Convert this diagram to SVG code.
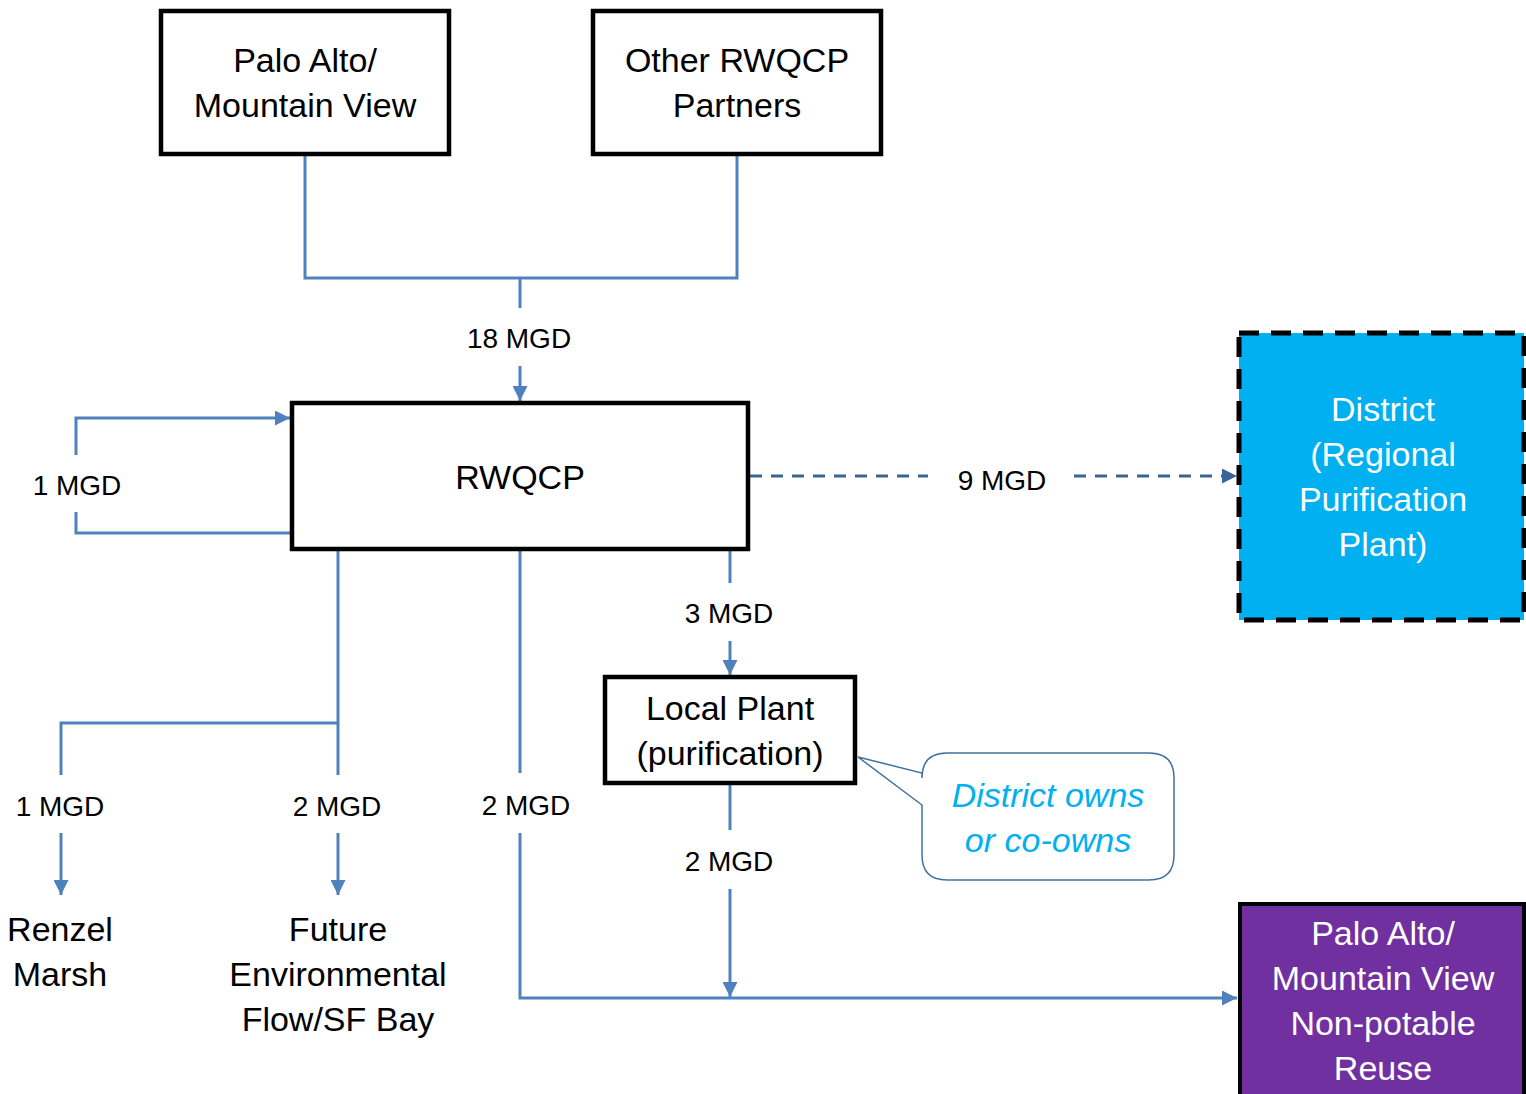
<svg xmlns="http://www.w3.org/2000/svg" width="1526" height="1094" viewBox="0 0 1526 1094">
<style>
.box{fill:#fff;stroke:#000;stroke-width:4.5}
.t{font-family:"Liberation Sans",Arial,sans-serif;font-size:34px;fill:#000;text-anchor:middle}
.w{fill:#fff}
.lbl{font-family:"Liberation Sans",Arial,sans-serif;font-size:28px;fill:#000;text-anchor:middle}
.c{fill:none;stroke:#4f81bd;stroke-width:3}
.d{fill:none;stroke:#3b6496;stroke-width:3;stroke-dasharray:12,9}
</style>
<defs>
<marker id="a" viewBox="0 0 10 10" refX="10" refY="5" markerWidth="5" markerHeight="5" orient="auto" markerUnits="strokeWidth"><path d="M0,0L10,5L0,10z" fill="#4f81bd"/></marker>
<marker id="ad" viewBox="0 0 10 10" refX="10" refY="5" markerWidth="5" markerHeight="5" orient="auto" markerUnits="strokeWidth"><path d="M0,0L10,5L0,10z" fill="#3b6496"/></marker>
</defs>
<rect width="1526" height="1094" fill="#fff"/>
<g id="connectors">
<polyline class="c" points="305,155 305,278 737,278 737,155"/>
<line class="c" x1="520" y1="278" x2="520" y2="308"/>
<line class="c" x1="520" y1="366" x2="520" y2="401" marker-end="url(#a)"/>
<polyline class="c" points="292,533 76,533 76,512"/>
<polyline class="c" points="76,455 76,418 290,418" marker-end="url(#a)"/>
<line class="d" x1="750" y1="476" x2="928" y2="476"/>
<line class="d" x1="1074" y1="476" x2="1237" y2="476" marker-end="url(#ad)"/>
<line class="c" x1="730" y1="549" x2="730" y2="583"/>
<line class="c" x1="730" y1="641" x2="730" y2="675" marker-end="url(#a)"/>
<line class="c" x1="730" y1="783" x2="730" y2="830"/>
<line class="c" x1="730" y1="889" x2="730" y2="997" marker-end="url(#a)"/>
<polyline class="c" points="338,549 338,775"/>
<polyline class="c" points="338,723 61,723 61,775"/>
<line class="c" x1="61" y1="833" x2="61" y2="895" marker-end="url(#a)"/>
<line class="c" x1="338" y1="833" x2="338" y2="895" marker-end="url(#a)"/>
<line class="c" x1="520" y1="549" x2="520" y2="773"/>
<polyline class="c" points="520,833 520,998 1237,998" marker-end="url(#a)"/>
</g>
<g id="lbls">
<text class="lbl" x="519" y="348">18 MGD</text>
<text class="lbl" x="77" y="495">1 MGD</text>
<text class="lbl" x="1002" y="490">9 MGD</text>
<text class="lbl" x="729" y="623">3 MGD</text>
<text class="lbl" x="729" y="871">2 MGD</text>
<text class="lbl" x="60" y="816">1 MGD</text>
<text class="lbl" x="337" y="816">2 MGD</text>
<text class="lbl" x="526" y="815">2 MGD</text>
</g>
<g id="palo-alto">
<rect class="box" x="161" y="11" width="288" height="143"/>
<text class="t" x="305" y="72">Palo Alto/</text>
<text class="t" x="305" y="117">Mountain View</text>
</g>
<g id="other-partners">
<rect class="box" x="593" y="11" width="288" height="143"/>
<text class="t" x="737" y="72">Other RWQCP</text>
<text class="t" x="737" y="117">Partners</text>
</g>
<g id="rwqcp">
<rect class="box" x="292" y="403" width="456" height="146"/>
<text class="t" x="520" y="489">RWQCP</text>
</g>
<g id="district">
<rect x="1239" y="333" width="285" height="287" fill="#00b0f0" stroke="#000" stroke-width="5" stroke-dasharray="20,12"/>
<text class="t w" x="1383" y="421">District</text>
<text class="t w" x="1383" y="466">(Regional</text>
<text class="t w" x="1383" y="511">Purification</text>
<text class="t w" x="1383" y="556">Plant)</text>
</g>
<g id="local-plant">
<rect class="box" x="605" y="677" width="250" height="106"/>
<text class="t" x="730" y="720">Local Plant</text>
<text class="t" x="730" y="765">(purification)</text>
</g>
<g id="callout">
<path d="M947,753 H1149 Q1174,753 1174,778 V855 Q1174,880 1149,880 H947 Q922,880 922,855 V805 L858,757 L922,773 V778 Q922,753 947,753 Z" fill="#fff" stroke="#41719c" stroke-width="1.5"/>
<text x="1048" y="807" font-family="Liberation Sans,Arial,sans-serif" font-size="34" font-style="italic" fill="#00b0f0" text-anchor="middle">District owns</text>
<text x="1048" y="852" font-family="Liberation Sans,Arial,sans-serif" font-size="34" font-style="italic" fill="#00b0f0" text-anchor="middle">or co-owns</text>
</g>
<g id="renzel">
<text class="t" x="60" y="941">Renzel</text>
<text class="t" x="60" y="986">Marsh</text>
</g>
<g id="future-flow">
<text class="t" x="338" y="941">Future</text>
<text class="t" x="338" y="986">Environmental</text>
<text class="t" x="338" y="1031">Flow/SF Bay</text>
</g>
<g id="non-potable">
<rect x="1240" y="904" width="284" height="192" fill="#7030a0" stroke="#000" stroke-width="4"/>
<text class="t w" x="1383" y="945">Palo Alto/</text>
<text class="t w" x="1383" y="990">Mountain View</text>
<text class="t w" x="1383" y="1035">Non-potable</text>
<text class="t w" x="1383" y="1080">Reuse</text>
</g>
</svg>
